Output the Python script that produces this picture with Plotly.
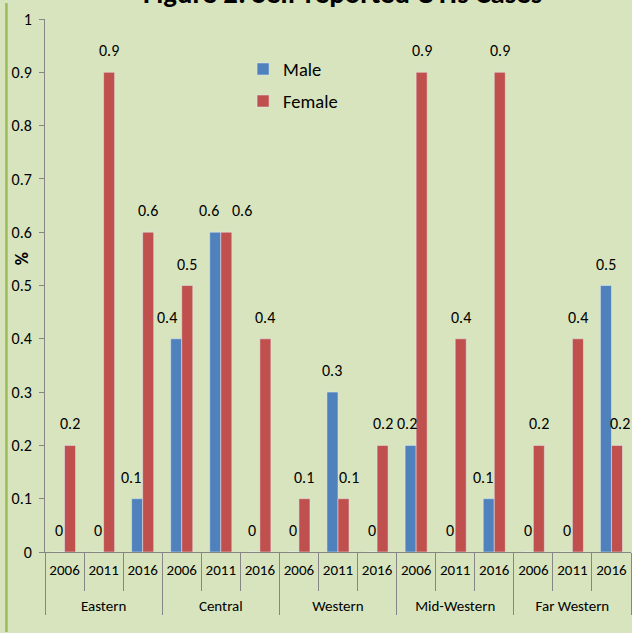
import plotly.graph_objects as go

regions = ["Eastern", "Central", "Western", "Mid-Western", "Far Western"]
years = ["2006", "2011", "2016"]
male = [0, 0, 0.1, 0.4, 0.6, 0, 0, 0.3, 0, 0.2, 0, 0.1, 0, 0, 0.5]
female = [0.2, 0.9, 0.6, 0.5, 0.6, 0.4, 0.1, 0.1, 0.2, 0.9, 0.4, 0.9, 0.2, 0.4, 0.2]
y_ticks = [0, 0.1, 0.2, 0.3, 0.4, 0.5, 0.6, 0.7, 0.8, 0.9, 1]

# label nudges (px) mimicking the original's collision handling
male_nudge = [0, 0, -6, -9, -6, -2, 0, 0, 0, -4, 0, -6, 0, 0, 0]
female_nudge = [0, 0, 0, 0, 16, 0, 0, 5, 0, 0, 0, 0, 0, 0, 3]

x_outer = ["<br>" + r for r in regions for _ in years]
x_inner = [y for _ in regions for y in years]

FONT = "Carlito, Lato, sans-serif"
BARGAP = 0.435
n = len(x_inner)
w = (1 - BARGAP) / 2

fig = go.Figure()
fig.add_trace(go.Bar(x=[x_outer, x_inner], y=male, name="Male", legendgroup="m",
                     marker_color="#4F81BD"))
fig.add_trace(go.Bar(x=[x_outer, x_inner], y=female, name="Female", legendgroup="f",
                     marker_color="#C0504D"))

for series, nudges, sign in ((male, male_nudge, -1), (female, female_nudge, 1)):
    for i, (v, dx) in enumerate(zip(series, nudges)):
        fig.add_annotation(text=f"{v:g}", xref="paper", yref="y",
                           x=(i + 0.5 + sign * w / 2) / n, y=v,
                           xanchor="center", yanchor="middle", yshift=21.5, xshift=dx,
                           showarrow=False, font=dict(size=16, color="black"))

fig.update_layout(
    width=632, height=633,
    margin=dict(l=45, r=1, t=18.6, b=81.4, autoexpand=False),
    paper_bgcolor="#D7E4BD", plot_bgcolor="#D7E4BD",
    font=dict(family=FONT, color="black", size=15),
    barmode="group", bargap=BARGAP, bargroupgap=0,
    legend=dict(x=0.338, y=0.941, xanchor="left", yanchor="top",
                bgcolor="rgba(0,0,0,0)", font=dict(size=18.5),
                itemwidth=30, tracegroupgap=5),
    showlegend=True,
)
fig.update_yaxes(range=[0, 1], tickvals=y_ticks, ticktext=[f"{v:g}" for v in y_ticks],
                 showgrid=False, showline=True, linecolor="#868686", linewidth=1,
                 ticks="outside", ticklen=5, tickcolor="#868686", automargin=False,
                 tickfont=dict(size=16), zeroline=False, ticklabelstandoff=4)
fig.update_xaxes(type="multicategory", showline=True, linecolor="#868686", linewidth=1,
                 ticks="outside", tickson="boundaries", ticklen=38, tickcolor="#868686",
                 showdividers=True, dividercolor="#868686", dividerwidth=1, automargin=False,
                 tickfont=dict(size=15), tickangle=0, showgrid=False, ticklabelstandoff=4)

fig.add_annotation(text="<b>%</b>", xref="paper", yref="paper", x=-0.0393, y=0.551,
                   xanchor="center", yanchor="middle",
                   textangle=-90, showarrow=False, font=dict(size=18, color="black"))
fig.add_annotation(text="<b>Figure 2: Self-reported UTIs Cases</b>", xref="paper", yref="paper",
                   x=0.508, y=1.0106, xanchor="center", yanchor="bottom", showarrow=False,
                   font=dict(size=28.8, color="black"))
fig.add_shape(type="line", xref="paper", yref="paper", x0=-0.0658, x1=-0.0658, y0=-0.15, y1=1.03,
              line=dict(color="#9BBB59", width=2.5))

fig.write_html("out.html", config={"displayModeBar": False},
               post_script="document.body.style.margin='0';document.body.style.overflow='hidden';")
